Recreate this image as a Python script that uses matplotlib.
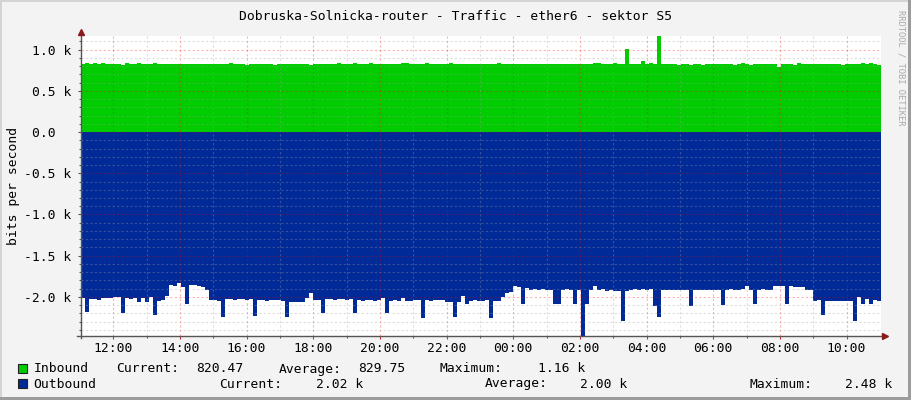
import numpy as np
import matplotlib
matplotlib.use("Agg")
import matplotlib.pyplot as plt
from matplotlib.patches import Rectangle

# one day of samples, 11:02 -> 11:02 next day, 200 steps of 7.2 min
t_start = 11 + 2 / 60.0
t_step = 24 / 200.0

# bits per second
inbound = [
    820, 836, 824, 832, 824, 836, 820, 820, 824, 824,
    816, 836, 824, 824, 836, 820, 824, 824, 836, 820,
    820, 820, 820, 820, 820, 820, 820, 820, 824, 824,
    824, 824, 824, 824, 824, 824, 824, 832, 820, 824,
    828, 816, 824, 824, 824, 824, 824, 824, 816, 824,
    824, 824, 824, 824, 824, 824, 824, 812, 824, 824,
    824, 824, 824, 824, 836, 824, 828, 820, 836, 828,
    828, 828, 836, 824, 824, 824, 824, 824, 824, 824,
    836, 836, 824, 824, 824, 824, 836, 824, 824, 824,
    824, 824, 836, 824, 824, 824, 824, 824, 824, 824,
    824, 824, 824, 824, 836, 824, 824, 824, 824, 824,
    824, 824, 824, 824, 824, 824, 824, 824, 824, 824,
    824, 824, 824, 820, 824, 824, 824, 824, 836, 836,
    824, 824, 824, 836, 824, 824, 1006, 824, 824, 824,
    860, 824, 836, 824, 1160, 824, 824, 824, 824, 816,
    824, 824, 816, 824, 824, 816, 824, 824, 824, 824,
    824, 824, 824, 816, 824, 832, 824, 816, 824, 824,
    824, 824, 824, 824, 792, 824, 824, 824, 816, 832,
    824, 824, 824, 824, 824, 824, 824, 824, 824, 824,
    816, 824, 824, 824, 824, 832, 824, 832, 824, 816,
]

outbound = [
    2016, 2180, 2020, 2024, 2040, 2016, 2012, 2018, 2000, 2004,
    2200, 2016, 2020, 2012, 2060, 2016, 2060, 2000, 2220, 2045,
    2040, 1985, 1860, 1865, 1830, 1880, 2080, 1850, 1855, 1870,
    1875, 1910, 2040, 2036, 2044, 2240, 2030, 2026, 2034, 2030,
    2024, 2032, 2030, 2230, 2040, 2036, 2044, 2040, 2032, 2040,
    2044, 2240, 2060, 2056, 2064, 2060, 2016, 1955, 2040, 2036,
    2200, 2030, 2026, 2034, 2030, 2024, 2032, 2030, 2200, 2040,
    2044, 2036, 2040, 2044, 2040, 2010, 2200, 2045, 2040, 2048,
    2016, 2045, 2050, 2040, 2036, 2250, 2040, 2044, 2036, 2040,
    2040, 2060, 2056, 2240, 2060, 1990, 2080, 2045, 2040, 2048,
    2045, 2042, 2250, 2045, 2048, 2000, 1950, 1945, 1870, 1875,
    2080, 1890, 1910, 1905, 1912, 1908, 1915, 1910, 2080, 2080,
    1910, 1906, 1912, 2090, 1910, 2480, 2080, 1920, 1870, 1910,
    1906, 1925, 1920, 1928, 1925, 2290, 1930, 1910, 1906, 1912,
    1900, 1910, 1908, 2110, 2240, 1915, 1912, 1918, 1915, 1910,
    1915, 1918, 2110, 1915, 1912, 1918, 1915, 1910, 1915, 1918,
    2100, 1910, 1906, 1912, 1910, 1900, 1870, 1915, 2080, 1910,
    1906, 1912, 1910, 1870, 1866, 1872, 2090, 1870, 1874, 1885,
    1882, 1915, 1912, 2045, 2042, 2220, 2050, 2046, 2054, 2050,
    2046, 2052, 2050, 2290, 2000, 2080, 2030, 2085, 2040, 2044,
]

x_tick_hours = [12, 14, 16, 18, 20, 22, 24, 26, 28, 30, 32, 34]
x_tick_labels = ["12:00", "14:00", "16:00", "18:00", "20:00", "22:00",
                 "00:00", "02:00", "04:00", "06:00", "08:00", "10:00"]
y_ticks = [-2000, -1500, -1000, -500, 0, 500, 1000]
y_tick_labels = ["-2.0 k", "-1.5 k", "-1.0 k", "-0.5 k", "0.0\u00a0\u00a0", "0.5 k", "1.0 k"]

title = "Dobruska-Solnicka-router - Traffic - ether6 - sektor S5"
in_stats = ["820.47", "829.75", "1.16 k"]
out_stats = ["2.02 k", "2.00 k", "2.48 k"]

green = "#00CC00"
blue = "#002A97"
mono = "DejaVu Sans Mono"
fs = 9.4

W, H = 911, 400
fig = plt.figure(figsize=(W / 100, H / 100), dpi=100, facecolor="#F3F3F3")
ax = fig.add_axes([81 / W, 64 / H, 800 / W, 300 / H])
ax.set_facecolor("white")

edges = t_start + t_step * np.arange(len(inbound) + 1)
ax.stairs(inbound, edges, baseline=0, fill=True, color=green, lw=0)
ax.stairs(-np.array(outbound), edges, baseline=0, fill=True, color=blue, lw=0)

ax.set_xlim(edges[0], edges[-1])
ax.set_ylim(-2473, 1164)

ax.set_xticks(x_tick_hours)
ax.set_xticklabels(x_tick_labels, fontfamily=mono, fontsize=fs)
ax.set_xticks(np.arange(12, 35, 1), minor=True)
ax.set_yticks(y_ticks)
ax.set_yticklabels(y_tick_labels, fontfamily=mono, fontsize=fs)
ax.set_yticks(np.arange(-2400, 1200, 100), minor=True)

ax.set_axisbelow(False)
ax.grid(which="minor", color="#A0A0A0", alpha=0.35, lw=0.8, ls=(0, (2, 2)))
ax.grid(which="major", color="#FF0000", alpha=0.3, lw=0.8, ls=(0, (2, 2)))

ax.tick_params(which="both", direction="out", color="#555555")
ax.tick_params(which="major", length=2.2, width=0.8, pad=5)
ax.tick_params(which="minor", length=1.4, width=0.8)
ax.tick_params(axis="x", which="major", pad=2, colors="#CC3333", labelcolor="black")

for s in ax.spines.values():
    s.set_visible(False)

# axes with arrows
ax.plot([0, 0], [-0.007, 1.005], transform=ax.transAxes, color="#555555",
        lw=1, clip_on=False, zorder=5)
ax.plot([-0.005, 1.003], [0, 0], transform=ax.transAxes, color="#555555",
        lw=1, clip_on=False, zorder=5)
ax.plot([0], [1.013], transform=ax.transAxes, marker="^", ms=4.5,
        color="#8B1A1A", clip_on=False, zorder=6)
ax.plot([1.005], [0], transform=ax.transAxes, marker=">", ms=4.5,
        color="#8B1A1A", clip_on=False, zorder=6)

ax.set_ylabel("bits per second", fontfamily=mono, fontsize=fs, labelpad=3)

def ftext(x, y, s, **kw):
    fig.text(x / W, 1 - y / H, s, fontfamily=mono, fontsize=fs, va="center", **kw)

ftext(W / 2, 16, title, ha="center")

# legend
ax_leg = fig.add_axes([0, 0, 1, 1], facecolor="none")
ax_leg.set_axis_off()
ax_leg.set_xlim(0, W)
ax_leg.set_ylim(H, 0)
ax_leg.add_patch(Rectangle((18, 364), 9, 9, facecolor=green, edgecolor="#222222", lw=0.8))
ax_leg.add_patch(Rectangle((18, 379), 9, 9, facecolor=blue, edgecolor="#222222", lw=0.8))

ftext(33.7, 369, "Inbound")
ftext(116.2, 369, "Current:")
ftext(196.4, 369, in_stats[0])
ftext(278.9, 369, "Average:")
ftext(358.5, 369, in_stats[1])
ftext(439.9, 369, "Maximum:")
ftext(537.5, 369, in_stats[2])

ftext(33.7, 384, "Outbound")
ftext(219.6, 384, "Current:")
ftext(315.5, 384, out_stats[0])
ftext(485.2, 384, "Average:")
ftext(579.9, 384, out_stats[1])
ftext(749.6, 384, "Maximum:")
ftext(845.4, 384, out_stats[2])

fig.text(901 / W, 1 - 68 / H, "RRDTOOL / TOBI OETIKER", rotation=270,
         fontfamily=mono, fontsize=6.3, color="#A8A8A8", ha="center", va="center")

# 3d frame
ax_leg.add_patch(Rectangle((0, 0), W, 2, color="#D4D4D4", lw=0))
ax_leg.add_patch(Rectangle((0, 0), 2, H, color="#D4D4D4", lw=0))
ax_leg.add_patch(Rectangle((W - 3, 0), 3, H, color="#9C9C9C", lw=0))
ax_leg.add_patch(Rectangle((0, H - 3), W, 3, color="#9C9C9C", lw=0))

fig.savefig("out.png", dpi=100, facecolor=fig.get_facecolor())
